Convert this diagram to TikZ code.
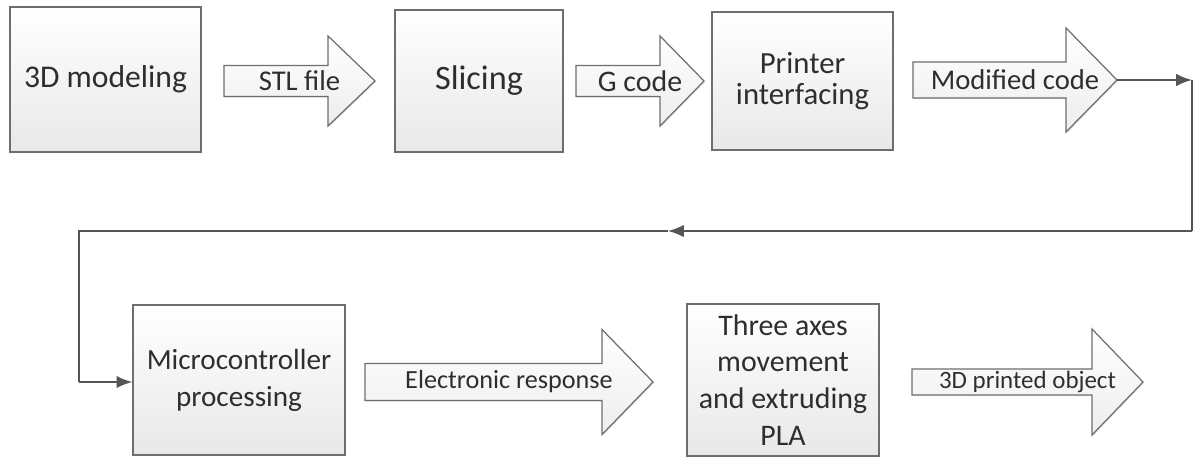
\documentclass[tikz,border=0pt]{standalone}
\usepackage{fontspec}
\setmainfont{Carlito}
\usetikzlibrary{arrows.meta,shadows}
\definecolor{edge}{HTML}{6E6E6E}
\definecolor{txt}{HTML}{2E2E2E}
\definecolor{lineg}{HTML}{555555}
\tikzset{
  box/.style={draw=edge, line width=0.8pt, top color=white, bottom color=black!9,
    drop shadow={opacity=0.25, shadow xshift=0.6pt, shadow yshift=-0.6pt},
    inner sep=0pt, align=center, text=txt},
  barrowshape/.style={draw=edge, line width=0.7pt, top color=white, bottom color=black!7,
    drop shadow={opacity=0.2, shadow xshift=0.6pt, shadow yshift=-0.6pt}},
  barrowtext/.style={text=txt, inner sep=0pt},
  conn/.style={draw=lineg, line width=0.9pt},
  connarr/.style={conn, -{Latex[length=9pt,width=7pt]}},
}
% name, x0, xbase, xtip, yc, shaft half, head half, font size, text
\newcommand\blockarr[9]{%
  \path[barrowshape] (#2,#5-#6) -- (#3,#5-#6) -- (#3,#5-#7) -- (#4,#5) -- (#3,#5+#7)
     -- (#3,#5+#6) -- (#2,#5+#6) -- cycle;
  \node[barrowtext, font=\fontsize{#8}{#8}\selectfont] (#1) at ({(#2+#4)/2},#5) {#9};
  \coordinate (#1tip) at (#4,#5);
}
\begin{document}
\begin{tikzpicture}[x=0.02cm,y=-0.02cm]
\useasboundingbox (0,0) rectangle (1195,460);
\fill[white] (0,0) rectangle (1195,460);

\node[box, minimum width=3.82cm, minimum height=2.90cm, font=\fontsize{18}{21}\selectfont] (b1) at (105.5,79.5) {3D modeling};
\node[box, minimum width=3.36cm, minimum height=2.84cm, font=\fontsize{19.5}{22}\selectfont] (b2) at (479,81) {Slicing};
\node[box, minimum width=3.62cm, minimum height=2.76cm, font=\fontsize{17.5}{17.5}\selectfont] (b3) at (802.5,81) {Printer\\interfacing};
\node[box, minimum width=4.24cm, minimum height=3.00cm, font=\fontsize{16.6}{21}\selectfont] (b4) at (239,380) {Microcontroller\\processing};
\node[box, minimum width=3.84cm, minimum height=3.04cm, font=\fontsize{17}{21}\selectfont] (b5) at (783,380) {Three axes\\movement\\and extruding\\PLA};

\blockarr{a1}{224}{328}{375}{81}{15.5}{45}{16.3}{STL file}
\blockarr{a2}{576}{660}{704}{81}{15.5}{45}{17}{G code}
\blockarr{a3}{913}{1066}{1117}{80}{18}{52}{16.3}{Modified code}
\blockarr{a4}{365}{602}{653}{382}{18.5}{52.5}{14.9}{Electronic response}
\blockarr{a5}{912}{1092}{1143}{382}{13}{53}{14.2}{3D printed object}

\coordinate (c1) at (1192,80);
\coordinate (c2) at (1192,231);
\coordinate (cm) at (668,231);
\coordinate (c3) at (79,231);
\coordinate (c4) at (79,382);

\draw[connarr] (a3tip) -- (c1);
\draw[conn] (c1) -- (c2);
\draw[connarr] (c2) -- (cm);
\draw[conn] (cm) -- (c3) -- (c4);
\draw[connarr] (c4) -- (b4.west |- c4);
\end{tikzpicture}
\end{document}
